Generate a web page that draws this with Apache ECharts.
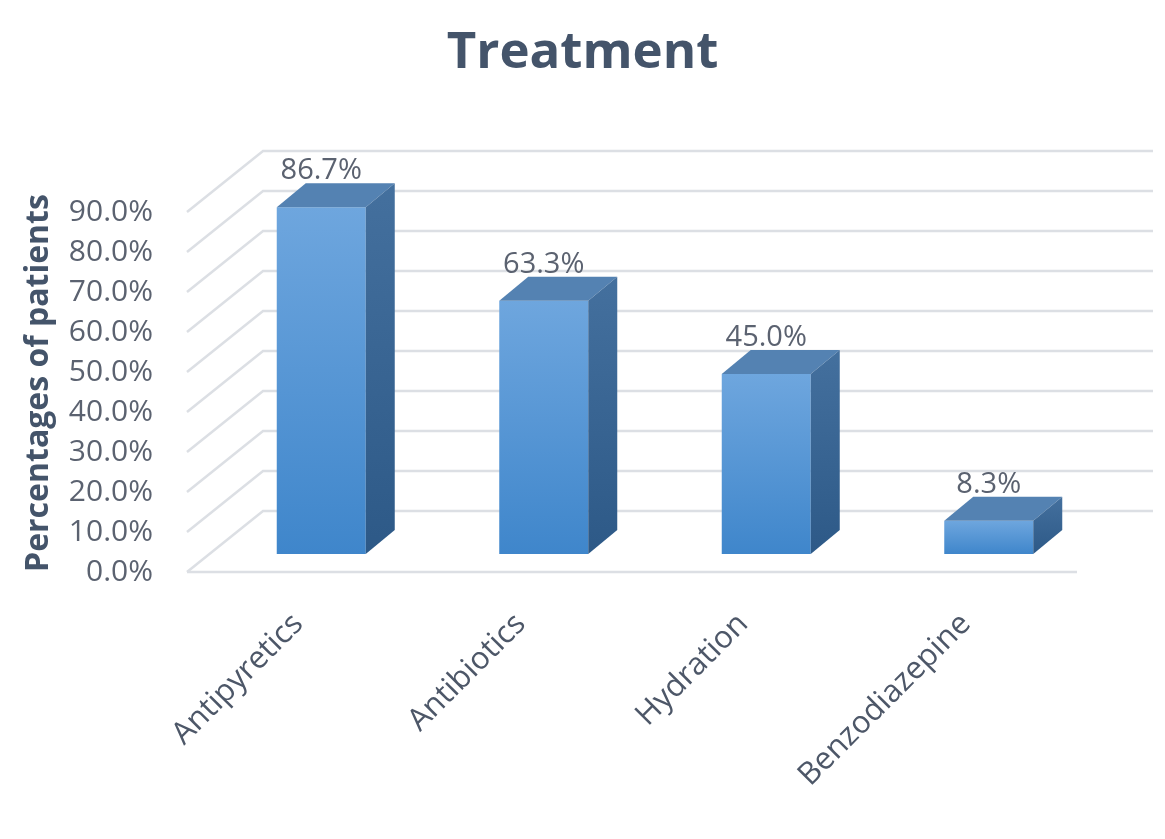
<!DOCTYPE html>
<html>
<head>
<meta charset="utf-8">
<title>Treatment</title>
<script src="https://cdn.jsdelivr.net/npm/echarts@6/dist/echarts.min.js"></script>
<style>
  html, body { margin: 0; padding: 0; background: #fff; }
  #chart { width: 1165px; height: 839px; }
</style>
</head>
<body>
<div id="chart"></div>
<script>
var categories = ['Antipyretics', 'Antibiotics', 'Hydration', 'Benzodiazepine'];
var percentages = [86.7, 63.3, 45.0, 8.3];
var gridTicks = [0, 10, 20, 30, 40, 50, 60, 70, 80, 90];

// 3d look: floor depth and bar depth, in pixels
var FLOOR_DX = 76, FLOOR_DY = -61;
var BAR_OX = 23, BAR_OY = -18;
var BAR_DX = 29, BAR_DY = -24;

var FONT = '"Open Sans", sans-serif';

function renderWall(params, api) {
    var v = api.value(1);
    var cs = params.coordSys;
    var y = api.coord([0, v])[1];
    var left = cs.x, right = cs.x + cs.width;
    var line = { stroke: '#dcdfe4', lineWidth: 2.5, fill: null };
    var kids = [{
        type: 'polyline',
        shape: { points: [[left, y], [left + FLOOR_DX, y + FLOOR_DY], [right + FLOOR_DX, y + FLOOR_DY]] },
        style: line
    }];
    if (v === 0) {
        kids.push({ type: 'line', shape: { x1: left, y1: y, x2: right, y2: y }, style: line });
    }
    return { type: 'group', children: kids };
}

function renderBar(params, api) {
    var idx = api.value(0);
    var val = api.value(1);
    var base = api.coord([idx, 0]);
    var top = api.coord([idx, val]);
    var w = api.size([1, 0])[0] * 0.4;
    var x0 = base[0] - w / 2 + BAR_OX, x1 = x0 + w;
    var yb = base[1] + BAR_OY, yt = top[1] + BAR_OY;
    return {
        type: 'group',
        children: [{
            type: 'polygon',
            shape: { points: [[x0, yt], [x1, yt], [x1, yb], [x0, yb]] },
            style: {
                fill: new echarts.graphic.LinearGradient(0, 0, 0, 1, [
                    { offset: 0, color: '#6ea6de' },
                    { offset: 1, color: '#3f86cb' }
                ])
            }
        }, {
            type: 'polygon',
            shape: { points: [[x0, yt], [x0 + BAR_DX, yt + BAR_DY], [x1 + BAR_DX, yt + BAR_DY], [x1, yt]] },
            style: { fill: '#5482b2' }
        }, {
            type: 'polygon',
            shape: { points: [[x1, yt], [x1 + BAR_DX, yt + BAR_DY], [x1 + BAR_DX, yb + BAR_DY], [x1, yb]] },
            style: {
                fill: new echarts.graphic.LinearGradient(0, 0, 0, 1, [
                    { offset: 0, color: '#44709e' },
                    { offset: 1, color: '#2d5987' }
                ])
            }
        }, {
            type: 'text',
            style: {
                x: x0 + w / 2,
                y: yt + BAR_DY + 2,
                text: val.toFixed(1) + '%',
                fill: '#5b6270',
                font: '29px ' + FONT,
                align: 'center',
                verticalAlign: 'bottom'
            }
        }]
    };
}

var chart = echarts.init(document.getElementById('chart'));
chart.setOption({
    backgroundColor: '#fff',
    animation: false,
    title: {
        text: 'Treatment',
        left: 'center',
        top: 23,
        textStyle: { fontFamily: FONT, fontSize: 51, fontWeight: 'bold', color: '#44546a' }
    },
    grid: { left: 187, right: 88, top: 212, bottom: 267 },
    xAxis: {
        type: 'category',
        data: categories,
        axisLine: { show: false },
        axisTick: { show: false },
        axisLabel: {
            rotate: 45,
            margin: 47,
            interval: 0,
            fontFamily: FONT,
            fontSize: 31,
            color: '#4d5768'
        }
    },
    yAxis: {
        type: 'value',
        min: 0,
        max: 90,
        interval: 10,
        name: 'Percentages of patients',
        nameLocation: 'middle',
        nameRotate: 90,
        nameGap: 132,
        nameTextStyle: {
            fontFamily: FONT, fontSize: 32, fontWeight: 'bold', color: '#44546a',
            padding: [0, 0, 0, 18]
        },
        axisLine: { show: false },
        axisTick: { show: false },
        splitLine: { show: false },
        axisLabel: {
            margin: 34,
            fontFamily: FONT,
            fontSize: 30,
            color: '#5b6270',
            formatter: function (v) { return v.toFixed(1) + '%'; }
        }
    },
    series: [{
        type: 'custom',
        name: 'wall',
        silent: true,
        clip: false,
        z: 1,
        renderItem: renderWall,
        data: gridTicks.map(function (t) { return [0, t]; })
    }, {
        type: 'custom',
        name: 'Percentages of patients',
        clip: false,
        z: 2,
        renderItem: renderBar,
        data: percentages.map(function (p, i) { return [i, p]; })
    }]
});
</script>
</body>
</html>
